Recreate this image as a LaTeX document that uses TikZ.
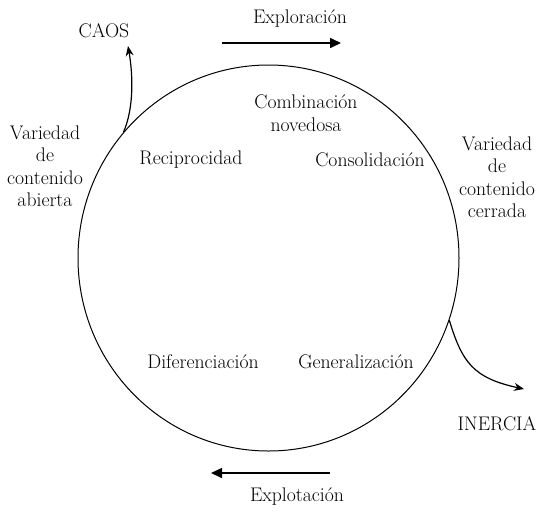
\documentclass[tikz,border=0pt]{standalone}
\usetikzlibrary{arrows.meta,shapes.geometric}
\begin{document}
\begin{tikzpicture}[x=1pt,y=-1pt,
  lbl/.style={inner sep=0pt,align=center,font=\fontsize{19.7}{22.5}\selectfont},
  bigarrow/.style={line width=1.6pt,-{Triangle[length=11pt,width=10pt]}},
  curvarrow/.style={line width=1.2pt,-{Stealth[length=10pt,width=8pt]}}]
\useasboundingbox (0,0) rectangle (540,512);
\node[draw,ellipse,line width=1pt,minimum width=381pt,minimum height=386pt,inner sep=0pt] (cyc) at (268.5,258) {};
% arrows top and bottom
\coordinate (exA) at (222,43);
\coordinate (exB) at (341,43);
\draw[bigarrow] (exA) -- (exB);
\node[lbl] (explor) at (300,19) {Exploración};
\coordinate (epA) at (330,473);
\coordinate (epB) at (211,473);
\draw[bigarrow] (epA) -- (epB);
\node[lbl] (explot) at (297,497) {Explotación};
% caos
\node[lbl] (caos) at (104,31) {CAOS};
\coordinate (caostip) at (128,46);
\draw[curvarrow] (cyc.139) .. controls (134,108) and (133,75) .. (caostip);
% inercia
\node[lbl] (inercia) at (497,424) {INERCIA};
\coordinate (inertip) at (524,389);
\draw[curvarrow] (cyc.-19) .. controls (462,362) and (473,378) .. (inertip);
% inside labels
\node[lbl] (comb) at (306,113) {Combinación\\novedosa};
\node[lbl] (recip) at (191,160) {Reciprocidad};
\node[lbl] (consol) at (370,160) {Consolidación};
\node[lbl] (difer) at (203,362) {Diferenciación};
\node[lbl] (gener) at (356,362) {Generalización};
% side labels
\node[lbl] (abierta) at (45,166) {Variedad\\de\\contenido\\abierta};
\node[lbl] (cerrada) at (497,177) {Variedad\\de\\contenido\\cerrada};
\end{tikzpicture}
\end{document}
